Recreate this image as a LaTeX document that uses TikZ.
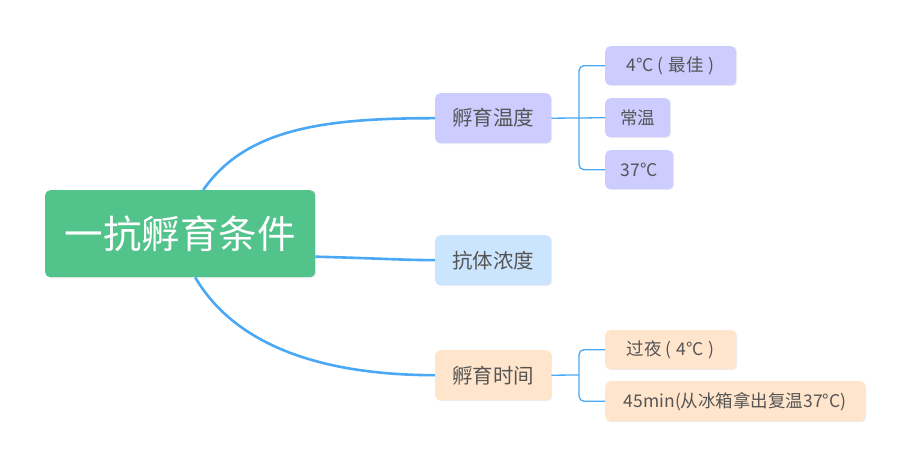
\documentclass[tikz,border=0pt]{standalone}
\usepackage{fontspec}
\setmainfont{Noto Sans CJK SC}
\usetikzlibrary{shadows}
\definecolor{rootg}{HTML}{52C38B}
\definecolor{lav}{HTML}{CCCCFF}
\definecolor{lblue}{HTML}{CCE5FF}
\definecolor{peach}{HTML}{FFE5CC}
\definecolor{linec}{HTML}{4AA8F5}
\definecolor{txt}{HTML}{555555}
\newcommand{\lp}{\hspace{4pt}(\hspace{5pt}}
\newcommand{\rp}{\hspace{5pt})\hspace{3pt}}
\tikzset{
  box/.style={rounded corners=5pt, anchor=north west, inner sep=0pt, text=txt,
    drop shadow={shadow xshift=1pt, shadow yshift=-1pt, opacity=0.15}},
  bfont/.style={font=\fontsize{20.5}{24}\selectfont},
  cfont/.style={font=\fontsize{17.5}{21}\selectfont},
  main/.style={line width=2.6pt, draw=linec},
  sub/.style={line width=1.3pt, draw=linec, rounded corners=5pt},
}
\begin{document}
\begin{tikzpicture}[x=1pt,y=-1pt]
\useasboundingbox (0,0) rectangle (910,465);
% root
\node[box, fill=rootg, text=white, minimum width=270pt, minimum height=87pt, font=\fontsize{38.5}{44}\selectfont] (root) at (45,190) {一抗孵育条件};
% branches
\node[box, fill=lav, minimum width=116pt, minimum height=50pt, bfont] (b1) at (435,93) {孵育温度};
\node[box, fill=lblue, minimum width=116pt, minimum height=50pt, bfont] (b2) at (435,235) {抗体浓度};
\node[box, fill=peach, minimum width=116pt, minimum height=50pt, bfont] (b3) at (435,350) {孵育时间};
% children of b1
\node[box, fill=lav, minimum width=131pt, minimum height=39pt, cfont] (c1) at (605,46) {4°C\lp 最佳\rp};
\node[box, fill=lav, minimum width=65pt, minimum height=39pt, cfont] (c2) at (605,98) {常温};
\node[box, fill=lav, minimum width=68pt, minimum height=39pt, cfont] (c3) at (605,150) {37°C};
% children of b3
\node[box, fill=peach, minimum width=131pt, minimum height=39pt, cfont] (d1) at (605,330) {过夜\lp 4°C\rp};
\node[box, fill=peach, minimum width=260pt, minimum height=40pt, cfont] (d2) at (605,381) {45min(从冰箱拿出复温37°C)};
% main connectors
\draw[main] ([xshift=23pt]root.north) .. controls (245,130) and (320,118) .. (b1.west);
\draw[main] ([yshift=-23pt]root.east) .. controls (370,258) and (400,260) .. (b2.west);
\draw[main] ([xshift=15pt]root.south) .. controls (235,345) and (320,375) .. (b3.west);
% sub connectors
\coordinate (j1) at (579,118);
\draw[sub] (b1.east) -- (j1);
\draw[sub] (c1.west) -| (j1) |- (c3.west);
\draw[sub] (j1) -- (c2.west);
\coordinate (j3) at (579,375);
\draw[sub] (b3.east) -- (j3);
\draw[sub] (d1.west) -| (j3) |- (d2.west);
\end{tikzpicture}
\end{document}
